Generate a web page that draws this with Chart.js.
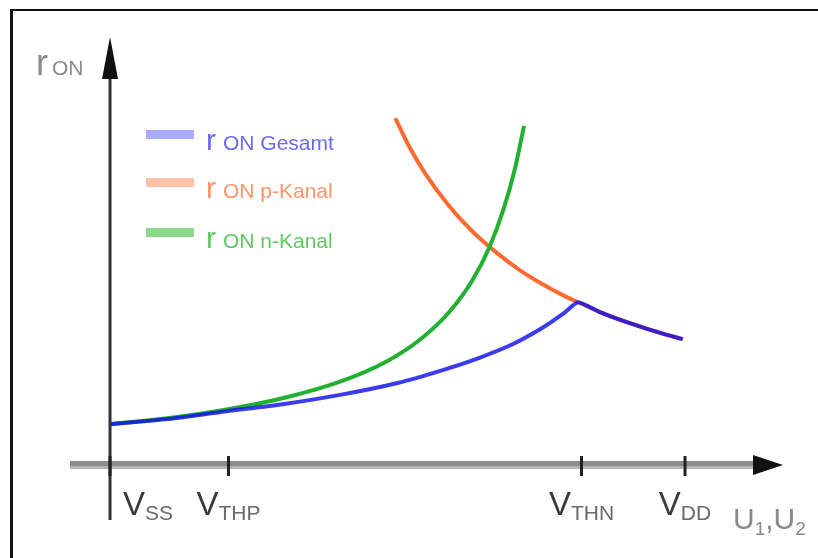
<!DOCTYPE html>
<html>
<head>
<meta charset="utf-8">
<script src="https://cdn.jsdelivr.net/npm/chart.js@4/dist/chart.umd.min.js"></script>
<style>
  html, body { margin: 0; padding: 0; background: #fff; }
  #wrap { position: relative; width: 818px; height: 558px; overflow: hidden; }
  #wrap canvas { position: absolute; left: 0; top: 0; }
  #frame { position: absolute; left: 10px; top: 9px; right: -5px; bottom: -5px;
           border-top: 2px solid #111; border-left: 3px solid #111; pointer-events: none; }
</style>
</head>
<body>
<div id="wrap">
  <canvas id="chart" width="818" height="558"></canvas>
  <div id="frame"></div>
</div>
<script>
// r_ON curves of a CMOS transmission gate
const xGesamt = [0, 0.5, 1.0, 1.5, 2.0, 2.5, 2.9, 3.2, 3.5, 3.75, 3.95, 4.07, 4.25, 4.45, 4.65, 4.82, 4.98];
const yGesamt = [9.6, 10.8, 12.6, 14.3, 16.5, 19.3, 22.4, 25.1, 28.4, 32.1, 35.8, 38.3, 36.1, 34.0, 32.2, 30.8, 29.6];

const xPKanal = [2.48, 2.6, 2.75, 2.95, 3.15, 3.35, 3.55, 3.75, 3.95, 4.07, 4.25, 4.45, 4.65, 4.82, 4.98];
const yPKanal = [81.6, 75.0, 68.2, 60.9, 55.0, 50.2, 46.1, 42.7, 39.8, 38.3, 36.1, 34.0, 32.2, 30.8, 29.6];

const xNKanal = [0, 0.5, 1.0, 1.5, 2.0, 2.4, 2.7, 2.95, 3.15, 3.3, 3.42, 3.52, 3.6];
const yNKanal = [9.6, 11.0, 13.0, 15.7, 19.6, 24.3, 29.6, 36.0, 43.4, 51.3, 60.0, 69.6, 79.8];

// tick marks on the U axis
const tickValues = [0, 1.03, 4.1, 5.0];
const tickMain = ["V", "V", "V", "V"];
const tickSub = ["SS", "THP", "THN", "DD"];

const seriesNames = ["ON Gesamt", "ON p-Kanal", "ON n-Kanal"];

const toPoints = (xs, ys) => xs.map((x, i) => ({ x: x, y: ys[i] }));

// legend + axes with arrows, drawn from the chart scales
const axesPlugin = {
  id: "axesPlugin",
  afterDatasetsDraw(chart) {
    const ctx = chart.ctx;
    const xs = chart.scales.x, ys = chart.scales.y;
    const x0 = xs.getPixelForValue(0);
    const y0 = ys.getPixelForValue(0);
    const top = chart.chartArea.top, bottom = chart.chartArea.bottom;
    const left = chart.chartArea.left, right = chart.chartArea.right;
    ctx.save();

    // x axis (grey band) + arrow
    ctx.fillStyle = "#8c8c8c";
    ctx.fillRect(left, y0 - 4, right - left - 28, 5);
    ctx.fillStyle = "#b4b4b4";
    ctx.fillRect(left, y0 + 1, right - left - 28, 3);
    ctx.fillStyle = "#111";
    ctx.beginPath();
    ctx.moveTo(right - 30, y0 - 10);
    ctx.lineTo(right, y0);
    ctx.lineTo(right - 30, y0 + 10);
    ctx.closePath();
    ctx.fill();

    // y axis + arrow
    ctx.strokeStyle = "#333";
    ctx.lineWidth = 3;
    ctx.beginPath();
    ctx.moveTo(x0, top + 38);
    ctx.lineTo(x0, bottom);
    ctx.stroke();
    ctx.fillStyle = "#111";
    ctx.beginPath();
    ctx.moveTo(x0, top);
    ctx.lineTo(x0 + 8, top + 42);
    ctx.lineTo(x0 - 8, top + 42);
    ctx.closePath();
    ctx.fill();

    // ticks and their labels
    ctx.textBaseline = "alphabetic";
    tickValues.forEach((v, i) => {
      const px = xs.getPixelForValue(v);
      ctx.strokeStyle = "#222";
      ctx.lineWidth = 3;
      ctx.beginPath();
      ctx.moveTo(px, y0 - 9);
      ctx.lineTo(px, y0 + 11);
      ctx.stroke();

      ctx.font = "33px 'Liberation Sans', Arial, sans-serif";
      const wMain = ctx.measureText(tickMain[i]).width;
      ctx.font = "21px 'Liberation Sans', Arial, sans-serif";
      const wSub = ctx.measureText(tickSub[i]).width;
      const lx = i === 0 ? px + 13 : px - (wMain + wSub) / 2;
      ctx.fillStyle = "#3a3a3a";
      ctx.font = "33px 'Liberation Sans', Arial, sans-serif";
      ctx.fillText(tickMain[i], lx, y0 + 50);
      ctx.fillStyle = "#6a6a6a";
      ctx.font = "21px 'Liberation Sans', Arial, sans-serif";
      ctx.fillText(tickSub[i], lx + wMain, y0 + 55);
    });

    // axis titles
    ctx.fillStyle = "#8a8a8a";
    ctx.font = "30px 'Liberation Sans', Arial, sans-serif";
    let ux = right - 50;
    ctx.fillText("U", ux, y0 + 64);
    ux += ctx.measureText("U").width;
    ctx.font = "19px 'Liberation Sans', Arial, sans-serif";
    ctx.fillText("1", ux, y0 + 70);
    ux += ctx.measureText("1").width;
    ctx.font = "30px 'Liberation Sans', Arial, sans-serif";
    ctx.fillText(",U", ux, y0 + 64);
    ux += ctx.measureText(",U").width;
    ctx.font = "19px 'Liberation Sans', Arial, sans-serif";
    ctx.fillText("2", ux, y0 + 70);

    ctx.fillStyle = "#8a8a8a";
    ctx.font = "36px 'Liberation Sans', Arial, sans-serif";
    ctx.fillText("r", x0 - 74, top + 38);
    ctx.font = "21px 'Liberation Sans', Arial, sans-serif";
    ctx.fillText("ON", x0 - 58, top + 38);

    // legend
    const legendColors = ["#aaaaff", "#ffc2a8", "#8cd88c"];
    const textColors = ["#6a6af2", "#ff9468", "#62c862"];
    const rowY = [135, 183, 233];
    chart.data.datasets.forEach((ds, i) => {
      ctx.fillStyle = legendColors[i];
      ctx.fillRect(146, rowY[i] - 5, 48, 9);
      ctx.fillStyle = textColors[i];
      ctx.font = "30px 'Liberation Sans', Arial, sans-serif";
      ctx.fillText("r", 206, rowY[i] + 15);
      ctx.font = "21px 'Liberation Sans', Arial, sans-serif";
      ctx.fillText(ds.label, 223, rowY[i] + 15);
    });
    ctx.restore();
  }
};

const ctx = document.getElementById("chart").getContext("2d");
new Chart(ctx, {
  type: "line",
  data: {
    datasets: [
      {
        label: seriesNames[0],
        data: toPoints(xGesamt, yGesamt),
        borderColor: "rgba(16, 16, 235, 0.82)",
        borderWidth: 4,
        cubicInterpolationMode: "default",
        tension: 0.2,
        order: 0,
      },
      {
        label: seriesNames[1],
        data: toPoints(xPKanal, yPKanal),
        borderColor: "#ff6a30",
        borderWidth: 4,
        order: 2,
      },
      {
        label: seriesNames[2],
        data: toPoints(xNKanal, yNKanal),
        borderColor: "#22b030",
        borderWidth: 4,
        order: 1,
      },
    ],
  },
  options: {
    responsive: false,
    animation: false,
    layout: { padding: { left: 70, right: 35, top: 37, bottom: 38 } },
    elements: {
      point: { radius: 0 },
      line: { cubicInterpolationMode: "monotone", fill: false },
    },
    scales: {
      x: { type: "linear", min: -0.348, max: 5.852, display: false },
      y: { type: "linear", min: -12.94, max: 100.7, display: false },
    },
    plugins: { legend: { display: false }, tooltip: { enabled: false } },
  },
  plugins: [axesPlugin],
});
</script>
</body>
</html>
